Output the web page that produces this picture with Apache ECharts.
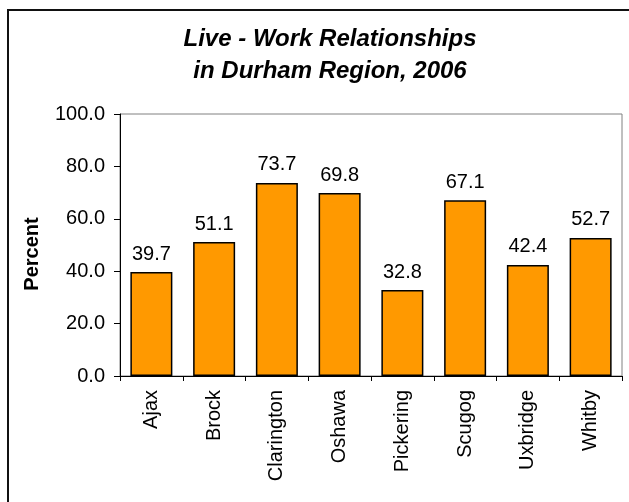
<!DOCTYPE html>
<html>
<head>
<meta charset="utf-8">
<script src="https://cdn.jsdelivr.net/npm/echarts@6/dist/echarts.min.js"></script>
<style>
html,body{margin:0;padding:0;background:#fff;overflow:hidden;}
#frame{position:absolute;left:7px;top:9px;width:640px;height:510px;border-left:2px solid #111;border-top:2px solid #111;box-sizing:border-box;}
#chart{position:absolute;left:0;top:0;width:629px;height:502px;}
</style>
</head>
<body>
<div id="frame"></div>
<div id="chart"></div>
<script>
const titleText = 'Live - Work Relationships\nin Durham Region, 2006';
const categories = ['Ajax','Brock','Clarington','Oshawa','Pickering','Scugog','Uxbridge','Whitby'];
const percentValues = [39.7, 51.1, 73.7, 69.8, 32.8, 67.1, 42.4, 52.7];
const yAxisName = 'Percent';
const FONT = 'Liberation Sans, Arial, sans-serif';

const chart = echarts.init(document.getElementById('chart'), null, {renderer:'canvas'});
chart.setOption({
  animation:false,
  textStyle:{fontFamily:FONT},
  title:{
    text:titleText,
    left:325, top:18, textAlign:'center',
    textStyle:{fontSize:24,fontWeight:'bold',fontStyle:'italic',color:'#000',lineHeight:32,fontFamily:FONT}
  },
  grid:{left:120,right:7,top:114,bottom:126,show:true,borderColor:'#808080',borderWidth:1,backgroundColor:'transparent'},
  xAxis:{
    type:'category',
    data:categories,
    axisLine:{lineStyle:{color:'#000',width:1}},
    axisTick:{show:true,length:5,lineStyle:{color:'#000'}},
    axisLabel:{rotate:90,fontSize:20,color:'#000',margin:14,fontFamily:FONT}
  },
  yAxis:{
    type:'value',min:0,max:100,interval:20,
    name:yAxisName,nameLocation:'middle',nameGap:78,nameRotate:90,
    nameTextStyle:{fontSize:20,fontWeight:'bold',color:'#000',fontFamily:FONT,padding:[0,18,0,0]},
    axisLine:{show:true,lineStyle:{color:'#000',width:1}},
    axisTick:{show:true,length:6,lineStyle:{color:'#000'}},
    splitLine:{show:false},
    axisLabel:{fontSize:20,color:'#000',margin:15,formatter:v=>v.toFixed(1),fontFamily:FONT}
  },
  series:[{
    type:'bar',
    data:percentValues,
    barWidth:42,
    itemStyle:{color:'#FF9900',borderColor:'#000',borderWidth:1.5},
    label:{show:true,position:'top',distance:8,fontSize:20,color:'#000',formatter:p=>p.value.toFixed(1),fontFamily:FONT}
  }]
});
</script>
</body>
</html>
